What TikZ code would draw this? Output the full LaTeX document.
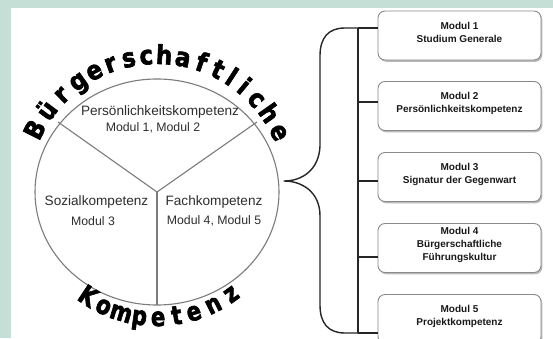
\documentclass[tikz,border=0pt]{standalone}
\usepackage{fontspec}
\setmainfont{Liberation Sans}
\newfontfamily\arcfont{DejaVu Sans}[BoldFeatures={FakeBold=2.5}]
\usetikzlibrary{calc,shadows}
\definecolor{frameteal}{HTML}{C5DED6}
\definecolor{ringgray}{HTML}{7C7C7C}
\definecolor{boxgray}{HTML}{8A8A8A}
\definecolor{inktext}{HTML}{2E2E2E}
\begin{document}
\begin{tikzpicture}[x=1pt,y=1pt,
  ring/.style={draw=ringgray,line width=1.1pt},
  bracket/.style={draw=black!85,line width=1.4pt},
  arcletter/.style={font=\arcfont\bfseries\fontsize{26}{26}\selectfont,inner sep=0pt,anchor=base},
  segtitle/.style={font=\fontsize{13.6}{15}\selectfont,text=inktext,inner sep=0pt},
  segsub/.style={font=\fontsize{12.3}{14}\selectfont,text=inktext,inner sep=0pt},
  modbox/.style={draw=boxgray,line width=0.9pt,fill=white,rounded corners=7pt,
    minimum width=163pt,minimum height=49pt,inner sep=0pt,
    drop shadow={shadow xshift=1.3pt,shadow yshift=-1.8pt,fill=black!45,opacity=0.6}},
  modtext/.style={font=\bfseries\fontsize{10}{13}\selectfont,text=black!90,align=center,inner sep=0pt}]
\useasboundingbox (0,0) rectangle (553,338);
% frame
\fill[frameteal] (0,0) rectangle (553,338);
\fill[white] (11,0) rectangle (553,329.5);

% the three-part ring
\coordinate (C) at (157,146);
\draw[ring] (C) ellipse [x radius=122, y radius=113];
\coordinate (armL) at (58,216);
\coordinate (armR) at (257,216);
\coordinate (armB) at (157,33);
\draw[ring] (armL) -- (C) -- (armR);
\draw[ring] (C) -- (armB);

\node[segtitle] (pk) at (160,226) {Persönlichkeitskompetenz};
\node[segsub] (pkm) at (153,210) {Modul 1, Modul 2};
\node[segtitle] (sk) at (96.5,136) {Sozialkompetenz};
\node[segsub] (skm) at (93,116.5) {Modul 3};
\node[segtitle] (fk) at (214,136) {Fachkompetenz};
\node[segsub] (fkm) at (214,117) {Modul 4, Modul 5};

% lettering around the ring
\foreach \ch/\a [count=\i] in {B/153,ü/143.5,r/134.5,g/125.5,e/117.5,r/110,s/102,c/94.5,h/87,a/79,f/71,t/63.5,l/57,i/50.5,c/43,h/35,e/26}
  \path (C) ++(\a:128) node[arcletter,rotate=\a-90,xscale=0.88] (top\i) {\ch};
\foreach \ch/\a [count=\i] in {K/236.5,o/245,m/253.5,p/262,e/270.5,t/279,e/287,n/296.5,z/306}
  \path (C) ++(\a:134) node[arcletter,rotate=\a+90,xscale=0.82] (bot\i) {\ch};

% module boxes
\node[modbox] (m1) at (459.5,302.5) {};
\node[modbox] (m2) at (459.5,232) {};
\node[modbox] (m3) at (459.5,161) {};
\node[modbox] (m4) at (459.5,90) {};
\node[modbox] (m5) at (459.5,19) {};
\node[modtext] (t1) at ([yshift=3pt]m1.center) {Modul 1\\Studium Generale};
\node[modtext] (t2) at ([yshift=3pt]m2.center) {Modul 2\\Persönlichkeitskompetenz};
\node[modtext] (t3) at ([yshift=3pt]m3.center) {Modul 3\\Signatur der Gegenwart};
\node[modtext] (t4) at ([yshift=3pt]m4.center) {Modul 4\\Bürgerschaftliche\\Führungskultur};
\node[modtext] (t5) at ([yshift=3pt]m5.center) {Modul 5\\Projektkompetenz};

% bus and brace
\coordinate (b1) at (358,310);
\coordinate (b2) at (358,236);
\coordinate (b3) at (358,157);
\coordinate (b4) at (358,81);
\coordinate (b5) at (358,5);
\coordinate (tip) at (284,157);
\draw[bracket] (b1) -- (b5);
\foreach \k in {1,...,5} \draw[bracket] (b\k) -- (b\k -| m\k.west);
\draw[bracket,line join=round] (b1) -- (345,310) .. controls (328,310) and (320,300) .. (320,282)
  -- (320,192) .. controls (319,168) and (302,157) .. (tip)
  .. controls (302,157) and (320,146) .. (320,122)
  -- (320,33) .. controls (320,15) and (328,5) .. (345,5) -- (b5);
\end{tikzpicture}
\end{document}
